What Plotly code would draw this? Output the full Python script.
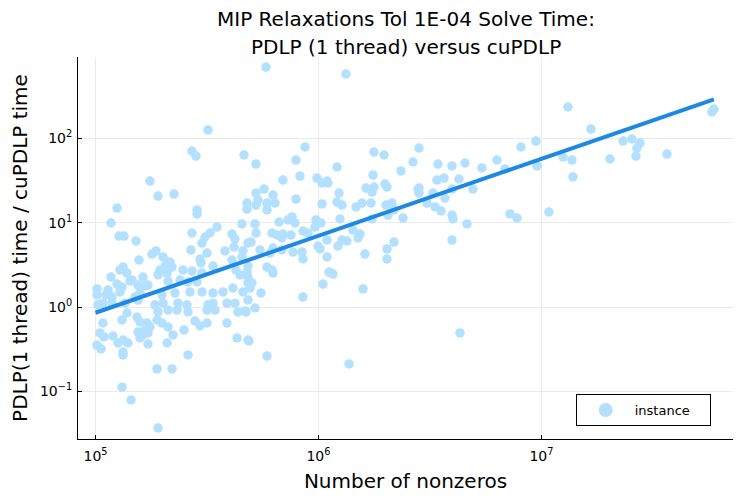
import plotly.graph_objects as go

# Number of nonzeros per instance
nnz = [
    3.195e5, 2.708e5, 2.823e5, 4.634e5, 5.815e5, 1.328e6, 5.244e5, 8.699e5, 7.928e5, 8.260e5,
    1.211e6, 1.774e6, 1.967e6, 2.823e6, 1.756e6, 2.344e6, 2.653e6, 9.847e5, 1.092e6, 6.932e5,
    1.755e5, 1.906e5, 2.249e5, 1.249e5, 2.853e5, 2.853e5, 4.779e5, 4.779e5, 1.174e5, 4.539e5,
    1.275e5, 1.342e5, 1.519e5, 3.506e5, 3.262e5, 3.097e5, 3.003e5, 2.708e5, 4.093e5, 4.222e5,
    4.829e5, 3.162e5, 2.681e5, 3.807e5, 4.179e5, 4.586e5, 1.867e5, 1.792e5, 2.008e5, 1.567e5,
    2.942e5, 2.972e5, 2.158e5, 2.050e5, 2.203e5, 4.093e5, 3.365e5, 4.829e5, 4.779e5, 1.329e5,
    1.288e5, 1.384e5, 1.946e5, 1.906e5, 2.093e5, 2.468e5, 2.708e5, 3.003e5, 4.266e5, 4.446e5,
    1.174e5, 1.428e5, 1.633e5, 1.551e5, 2.115e5, 2.393e5, 2.599e5, 2.853e5, 1.249e5, 1.315e5,
    1.667e5, 1.719e5, 1.458e5, 1.016e5, 1.016e5, 1.138e5, 1.115e5, 1.186e5, 3.365e5, 3.730e5,
    4.136e5, 4.586e5, 4.829e5, 1.583e5, 1.504e5, 1.987e5, 2.273e5, 2.653e5, 3.003e5, 1.288e5,
    1.026e5, 1.080e5, 1.186e5, 1.356e5, 1.551e5, 1.848e5, 2.008e5, 2.344e5, 2.572e5, 3.195e5,
    3.365e5, 3.162e5, 3.887e5, 4.222e5, 4.829e5, 1.906e5, 2.115e5, 2.320e5, 2.599e5, 3.435e5,
    4.355e5, 4.730e5, 1.384e5, 1.315e5, 1.535e5, 1.583e5, 1.080e5, 1.887e5, 1.987e5, 2.115e5,
    1.702e5, 1.755e5, 1.667e5, 2.794e5, 2.942e5, 3.162e5, 3.887e5, 1.047e5, 1.092e5, 1.198e5,
    1.551e5, 1.633e5, 1.583e5, 1.719e5, 2.226e5, 2.494e5, 4.311e5, 4.829e5, 1.329e5, 1.262e5,
    1.398e5, 1.719e5, 2.093e5, 1.016e5, 1.058e5, 1.329e5, 1.329e5, 2.599e5, 1.887e5, 2.203e5,
    1.315e5, 1.443e5, 1.906e5, 1.037e6, 1.103e6, 5.696e5, 5.244e5, 6.252e5, 1.633e6, 1.774e6,
    1.738e6, 1.987e6, 2.029e6, 1.236e6, 2.794e6, 7.928e5, 5.354e5, 5.876e5, 6.381e5, 5.244e5,
    5.876e5, 1.037e6, 1.211e6, 1.275e6, 1.473e6, 1.567e6, 1.719e6, 2.008e6, 2.136e6, 2.181e6,
    2.050e6, 2.393e6, 1.738e6, 1.249e6, 6.651e5, 7.299e5, 7.607e5, 7.846e5, 9.745e5, 1.026e6,
    9.645e5, 5.190e5, 5.244e5, 6.187e5, 6.515e5, 6.932e5, 7.529e5, 8.521e5, 8.972e5, 1.428e6,
    1.535e6, 1.503e6, 6.860e5, 4.980e5, 1.092e6, 1.275e6, 1.342e6, 2.181e6, 1.223e6, 9.949e5,
    1.016e6, 5.466e5, 6.252e5, 6.860e5, 7.686e5, 8.433e5, 2.029e6, 1.616e6, 4.539e5, 6.061e5,
    1.092e6, 2.029e6, 8.521e5, 5.876e5, 6.187e5, 6.252e5, 1.115e6, 1.161e6, 4.829e5, 5.032e5,
    4.929e5, 5.523e5, 1.048e6, 1.583e6, 8.521e5, 5.190e5, 4.682e5, 4.878e5, 5.876e5, 1.370e6,
    1.315e7, 1.667e7, 2.321e7, 2.546e7, 2.765e7, 2.681e7, 2.653e7, 3.655e7, 2.029e7, 5.815e7,
    5.935e7, 3.435e6, 3.969e6, 4.539e6, 5.410e6, 6.316e6, 6.860e6, 8.092e6, 9.448e6, 9.546e6,
    1.249e7, 1.370e7, 1.384e7, 3.399e6, 3.655e6, 4.266e6, 2.823e6, 2.823e6, 3.262e6, 3.969e6,
    4.929e6, 3.693e6, 3.066e6, 3.330e6, 3.543e6, 3.969e6, 4.010e6, 7.223e6, 7.764e6, 1.080e7,
    4.634e6, 3.969e6, 4.311e6,
]

# PDLP (1 thread) time / cuPDLP time
ratio = [
    126, 70.9, 61.8, 63.6, 703, 581, 49.7, 79.1, 55.4, 35.8,
    45.8, 69.0, 63.6, 76.9, 36.8, 41.1, 52.5, 33.9, 31.2, 32.1,
    31.2, 20.7, 21.9, 14.9, 14.2, 12.7, 17.1, 14.5, 9.92, 9.66,
    6.95, 6.95, 6.07, 8.89, 7.55, 6.77, 5.74, 7.55, 7.34, 6.41,
    5.74, 4.37, 4.75, 4.62, 5.15, 4.62, 4.62, 4.25, 3.92, 3.61,
    3.71, 3.33, 3.42, 3.06, 2.98, 3.61, 3.06, 3.06, 2.60, 2.98,
    2.75, 2.53, 2.75, 2.40, 2.53, 2.75, 2.67, 2.53, 2.75, 2.40,
    2.27, 2.03, 2.27, 1.82, 2.03, 2.09, 1.98, 1.98, 1.87, 1.73,
    1.77, 1.82, 2.09, 1.64, 1.39, 1.59, 1.39, 1.31, 1.47, 1.51,
    1.68, 1.51, 1.93, 1.47, 1.31, 1.39, 1.47, 1.51, 1.51, 1.51,
    1.06, 1.11, 1.11, 1.11, 1.21, 1.06, 1.11, 1.11, 1.06, 1.06,
    1.11, 0.921, 1.11, 1.11, 1.21, 0.873, 0.921, 0.921, 0.873, 0.921,
    0.873, 0.873, 0.849, 0.701, 0.761, 0.664, 0.646, 0.701, 0.646, 0.579,
    0.646, 0.579, 0.534, 0.682, 0.595, 0.646, 0.646, 0.492, 0.441, 0.453,
    0.505, 0.466, 0.429, 0.492, 0.466, 0.534, 0.429, 0.406, 0.406, 0.374,
    0.374, 0.364, 0.374, 0.354, 0.318, 0.292, 0.270, 0.270, 0.184, 0.184,
    0.112, 0.0788, 0.0367, 29.6, 29.6, 25.1, 22.5, 21.3, 25.8, 26.5,
    23.1, 28.8, 26.5, 22.5, 25.1, 19.1, 18.6, 17.1, 17.1, 16.2,
    14.2, 16.7, 17.6, 16.2, 15.4, 17.1, 17.1, 16.2, 17.1, 14.2,
    12.3, 11.4, 11.1, 11.1, 10.2, 10.8, 11.7, 9.92, 10.8, 9.92,
    8.89, 9.66, 7.55, 7.55, 7.14, 7.34, 7.14, 7.97, 7.55, 8.19,
    7.34, 6.59, 6.59, 5.90, 6.23, 6.23, 6.07, 5.90, 5.29, 5.29,
    4.88, 4.75, 5.01, 4.75, 4.49, 4.49, 4.88, 4.25, 3.92, 4.37,
    3.92, 3.71, 3.71, 2.98, 2.75, 2.53, 2.60, 2.46, 2.27, 1.93,
    1.68, 1.47, 1.87, 1.64, 1.31, 0.973, 0.897, 0.395, 0.262, 0.211,
    236, 129, 93.1, 98.4, 88.2, 76.9, 61.8, 65.3, 57.0, 206,
    223, 49.7, 47.1, 51.1, 44.6, 55.4, 43.4, 79.1, 93.1, 47.1,
    60.1, 55.4, 34.9, 32.1, 33.9, 33.0, 25.8, 22.5, 22.5, 25.1,
    25.1, 19.6, 17.1, 15.4, 13.8, 12.3, 11.1, 12.7, 11.4, 13.4,
    9.66, 6.23, 0.492,
]

# Least-squares fit line (log-log), endpoints
fit_nnz = [1.0e5, 5.935e7]
fit_ratio = [0.855, 291]

# Tick positions and labels
x_tick_vals = [1e5, 1e6, 1e7]
x_tick_text = ["10<sup>5</sup>", "10<sup>6</sup>", "10<sup>7</sup>"]
y_tick_vals = [1e-1, 1e0, 1e1, 1e2]
y_tick_text = ["10<sup>\u22121</sup>", "10<sup>0</sup>", "10<sup>1</sup>", "10<sup>2</sup>"]

title_lines = ["MIP Relaxations Tol 1E-04 Solve Time:", "PDLP (1 thread) versus cuPDLP"]

FONT = "DejaVu Sans"
POINT_COLOR = "#b3e0ff"

fig = go.Figure()
fig.add_trace(go.Scatter(
    x=nnz, y=ratio, mode="markers", name="instance", showlegend=False,
    marker=dict(color=POINT_COLOR, size=9.5, line=dict(width=0)),
))
fig.add_trace(go.Scatter(
    x=fit_nnz, y=fit_ratio, mode="lines", showlegend=False,
    line=dict(color="#1e88e5", width=4),
))
# legend entry for the scatter series (larger symbol, as in the original legend)
fig.add_trace(go.Scatter(
    x=[None], y=[None], mode="markers", name="instance",
    marker=dict(color=POINT_COLOR, size=14, line=dict(width=0)),
))

axis_common = dict(
    type="log", tickmode="array",
    showgrid=True, gridcolor="#ebebeb", gridwidth=1,
    showline=True, linecolor="black", linewidth=1, mirror=False,
    ticks="inside", ticklen=4, tickcolor="black", tickwidth=1,
    tickfont=dict(family=FONT, size=14, color="black"),
    zeroline=False, automargin=False,
)

fig.update_layout(
    width=739, height=490,
    paper_bgcolor="white", plot_bgcolor="white",
    font=dict(family=FONT, color="black"),
    margin=dict(l=70, r=14, t=49, b=59),
    xaxis=dict(
        range=[4.9215, 7.859],
        tickvals=x_tick_vals, ticktext=x_tick_text, ticklabelstandoff=4,
        title=dict(text="Number of nonzeros", font=dict(family=FONT, size=20), standoff=11),
        **axis_common,
    ),
    yaxis=dict(
        range=[-1.566, 2.966],
        tickvals=y_tick_vals, ticktext=y_tick_text, ticklabelstandoff=2,
        title=dict(text="PDLP(1 thread) time / cuPDLP time", font=dict(family=FONT, size=20), standoff=12),
        **axis_common,
    ),
    legend=dict(
        x=0.966, y=0.034, xanchor="right", yanchor="bottom",
        orientation="h", entrywidth=70, entrywidthmode="pixels", itemwidth=48,
        bgcolor="white", bordercolor="black", borderwidth=1,
        font=dict(family=FONT, size=13, color="black"),
    ),
    showlegend=True,
)

for line, ypos in zip(title_lines, [1.0995, 1.0262]):
    fig.add_annotation(
        text=line, xref="paper", yref="paper", x=0.5, y=ypos,
        xanchor="center", yanchor="middle", showarrow=False,
        font=dict(family=FONT, size=20, color="black"),
    )

fig.write_html("out.html")
